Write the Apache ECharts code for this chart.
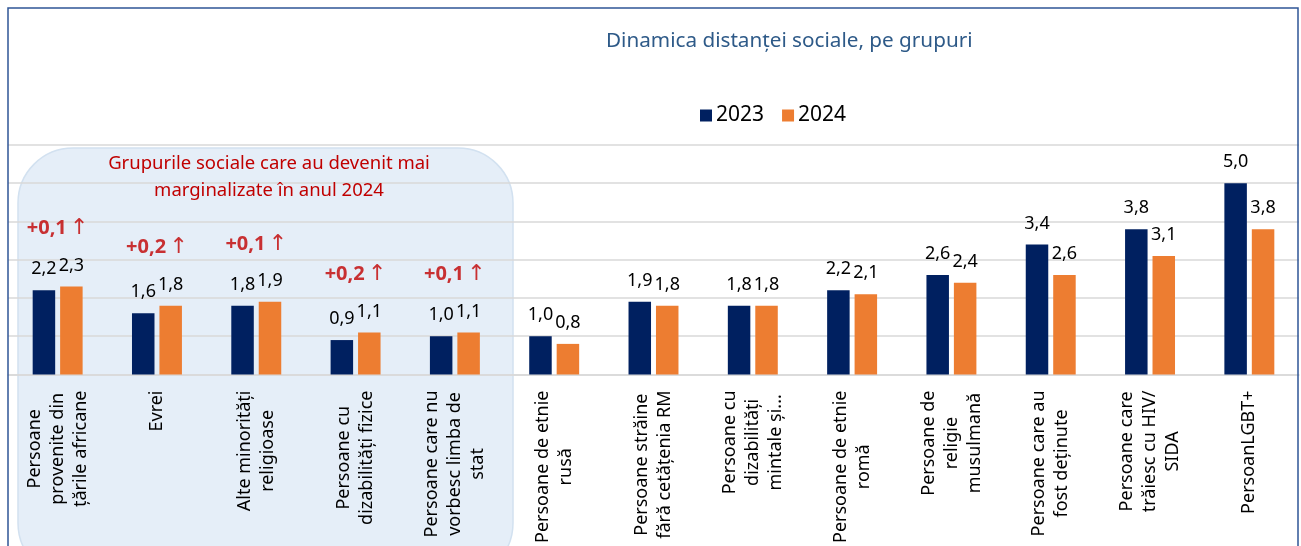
<!DOCTYPE html>
<html>
<head>
<meta charset="utf-8">
<script src="https://cdn.jsdelivr.net/npm/echarts@6/dist/echarts.min.js"></script>
<style>
html,body{margin:0;padding:0;background:#fff;}
#c{width:1301px;height:546px;}
</style>
</head>
<body>
<div id="c"></div>
<script>
const categories = [
  'Persoane\nprovenite din\nțările africane',
  'Evrei',
  'Alte minorități\nreligioase',
  'Persoane cu\ndizabilități fizice',
  'Persoane care nu\nvorbesc limba de\nstat',
  'Persoane de etnie\nrusă',
  'Persoane străine\nfără cetățenia RM',
  'Persoane cu\ndizabilități\nmintale și...',
  'Persoane de etnie\nromă',
  'Persoane de\nreligie\nmusulmană',
  'Persoane care au\nfost deținute',
  'Persoane care\ntrăiesc cu HIV/\nSIDA',
  'PersoanLGBT+'
];
const values2023 = [2.2, 1.6, 1.8, 0.9, 1.0, 1.0, 1.9, 1.8, 2.2, 2.6, 3.4, 3.8, 5.0];
const values2024 = [2.3, 1.8, 1.9, 1.1, 1.1, 0.8, 1.8, 1.8, 2.1, 2.4, 2.6, 3.1, 3.8];
const changeLabels = ['+0,1', '+0,2', '+0,1', '+0,2', '+0,1', null, null, null, null, null, null, null, null];
const yTicks = [0, 1, 2, 3, 4, 5, 6];

const FONT = "'Noto Sans', 'Open Sans', sans-serif";
const fmt = v => v.toFixed(1).replace('.', ',');

const annotData = [];
changeLabels.forEach((t, i) => {
  if (t) annotData.push({ value: [i, Math.max(values2023[i], values2024[i])], name: t });
});

const chart = echarts.init(document.getElementById('c'), null, { renderer: 'canvas' });
chart.setOption({
  animation: false,
  backgroundColor: '#fff',
  title: {
    text: 'Dinamica distanței sociale, pe grupuri',
    left: 601, top: 26,
    textStyle: { color: '#2E5A88', fontSize: 20.7, fontWeight: 'normal', fontFamily: FONT }
  },
  legend: {
    data: ['2023', '2024'],
    left: 695, top: 100,
    itemWidth: 12, itemHeight: 12, itemGap: 18,
    icon: 'rect',
    textStyle: { color: '#000', fontSize: 21, fontFamily: FONT, padding: [0, 0, 0, -1] }
  },
  grid: { left: 8, right: 2, top: 145, bottom: 169, containLabel: false },
  xAxis: {
    type: 'category',
    data: categories,
    axisTick: { show: false },
    axisLine: { lineStyle: { color: '#D9D9D9', width: 1.5 } },
    axisLabel: {
      interval: 0, rotate: 90, margin: 16, hideOverlap: false,
      color: '#000', fontSize: 18, fontFamily: FONT, lineHeight: 23,
      formatter: v => '{c|' + v + '}',
      rich: { c: { align: 'center', fontSize: 18, fontFamily: FONT, lineHeight: 23, color: '#000' } }
    }
  },
  yAxis: {
    type: 'value',
    min: yTicks[0], max: yTicks[yTicks.length - 1], interval: 1,
    axisLabel: { show: false },
    axisLine: { show: false },
    axisTick: { show: false },
    splitLine: { lineStyle: { color: '#D9D9D9', width: 1.5 } }
  },
  series: [
    {
      name: '2023', type: 'bar', data: values2023,
      barWidth: 22.5, barGap: '22%',
      itemStyle: { color: '#002060' },
      label: { show: true, position: 'top', distance: 12, color: '#000', fontSize: 18, fontFamily: FONT, formatter: p => fmt(p.value) }
    },
    {
      name: '2024', type: 'bar', data: values2024,
      barWidth: 22.5,
      itemStyle: { color: '#ED7D31' },
      label: { show: true, position: 'top', distance: 12, color: '#000', fontSize: 18, fontFamily: FONT, formatter: p => fmt(p.value) }
    },
    {
      name: 'annot', type: 'scatter', data: annotData,
      symbolSize: 0, silent: true, z: 5,
      label: {
        show: true, position: 'top', distance: 47,
        formatter: p => '{n|' + p.name + '} {a|↑}',
        rich: {
          n: { color: '#C00000', fontSize: 20, fontWeight: 'bold', fontFamily: FONT },
          a: { color: '#C00000', fontSize: 22, fontFamily: "'DejaVu Sans', sans-serif" }
        }
      }
    }
  ],
  graphic: [
    {
      type: 'rect', z: -10, silent: true,
      shape: { x: 18, y: 148, width: 495, height: 430, r: 55 },
      style: { fill: 'rgba(218,231,245,0.7)', stroke: '#D2E1F0', lineWidth: 1.5 }
    },
    {
      type: 'text', z: 10, silent: true,
      x: 269, y: 150,
      style: {
        text: 'Grupurile sociale care au devenit mai\nmarginalizate în anul 2024',
        fill: '#C00000', font: '18.5px ' + FONT, align: 'center', verticalAlign: 'top', lineHeight: 27
      }
    },
    {
      type: 'rect', z: 100, silent: true,
      shape: { x: 8, y: 8, width: 1290, height: 600 },
      style: { fill: 'none', stroke: '#2F5597', lineWidth: 1.5 }
    }
  ]
});
</script>
</body>
</html>
